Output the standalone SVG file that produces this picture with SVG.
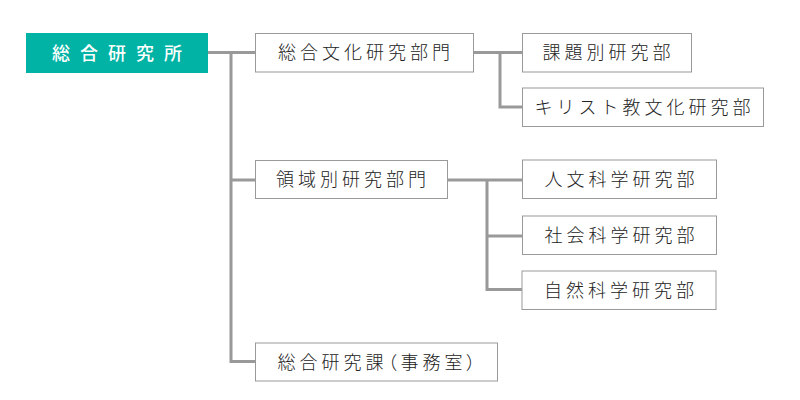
<svg xmlns="http://www.w3.org/2000/svg" width="800" height="400" viewBox="0 0 800 400">
<style>
.box{fill:#fff;stroke:#999;stroke-width:1}
.t{font-family:"Noto Sans CJK JP","Noto Sans CJK SC",sans-serif;font-size:18px;fill:#222;letter-spacing:4px;text-anchor:middle;font-weight:300}
.top{font-family:"Noto Sans CJK JP","Noto Sans CJK SC",sans-serif;font-size:18px;fill:#fff;letter-spacing:10px;text-anchor:middle;font-weight:500}
.palt{font-feature-settings:"palt"}
.c{fill:none;stroke:#999;stroke-width:3}
</style>
<rect width="800" height="400" fill="#fff"/>
<g id="connectors">
<path class="c" d="M208 52.5H255M231 52.5V361.5H255M231 180H255"/>
<path class="c" d="M474 52.5H522M500 52.5V107H522"/>
<path class="c" d="M448 180H522M487 180V289.5H522M487 236H522"/>
</g>
<g id="n-root">
<rect x="26" y="33" width="182" height="40" fill="#00b3a4"/>
<text class="top" x="122" y="59.5">総合研究所</text>
</g>
<g id="n-bunka">
<rect class="box" x="255.5" y="33.5" width="218" height="38.5"/>
<text class="t" x="366" y="59">総合文化研究部門</text>
</g>
<g id="n-ryoiki">
<rect class="box" x="255.5" y="160.5" width="192" height="38"/>
<text class="t" x="353" y="186">領域別研究部門</text>
</g>
<g id="n-jimu">
<rect class="box" x="255.5" y="343" width="242" height="38"/>
<text class="t palt" x="378.5" y="368.5">総合研究課（事務室）</text>
</g>
<g id="n-kadai">
<rect class="box" x="522.5" y="33.5" width="169" height="38.5"/>
<text class="t" x="608.5" y="59">課題別研究部</text>
</g>
<g id="n-kirisuto">
<rect class="box" x="522.5" y="88" width="241" height="38.5"/>
<text class="t" x="644.5" y="113.5">キリスト教文化研究部</text>
</g>
<g id="n-jinbun">
<rect class="box" x="522.5" y="160" width="194" height="38.5"/>
<text class="t" x="621.5" y="185.5">人文科学研究部</text>
</g>
<g id="n-shakai">
<rect class="box" x="522.5" y="216" width="194" height="38.5"/>
<text class="t" x="621.5" y="241.5">社会科学研究部</text>
</g>
<g id="n-shizen">
<rect class="box" x="522" y="271" width="194" height="38.5"/>
<text class="t" x="621" y="296.5">自然科学研究部</text>
</g>
</svg>
